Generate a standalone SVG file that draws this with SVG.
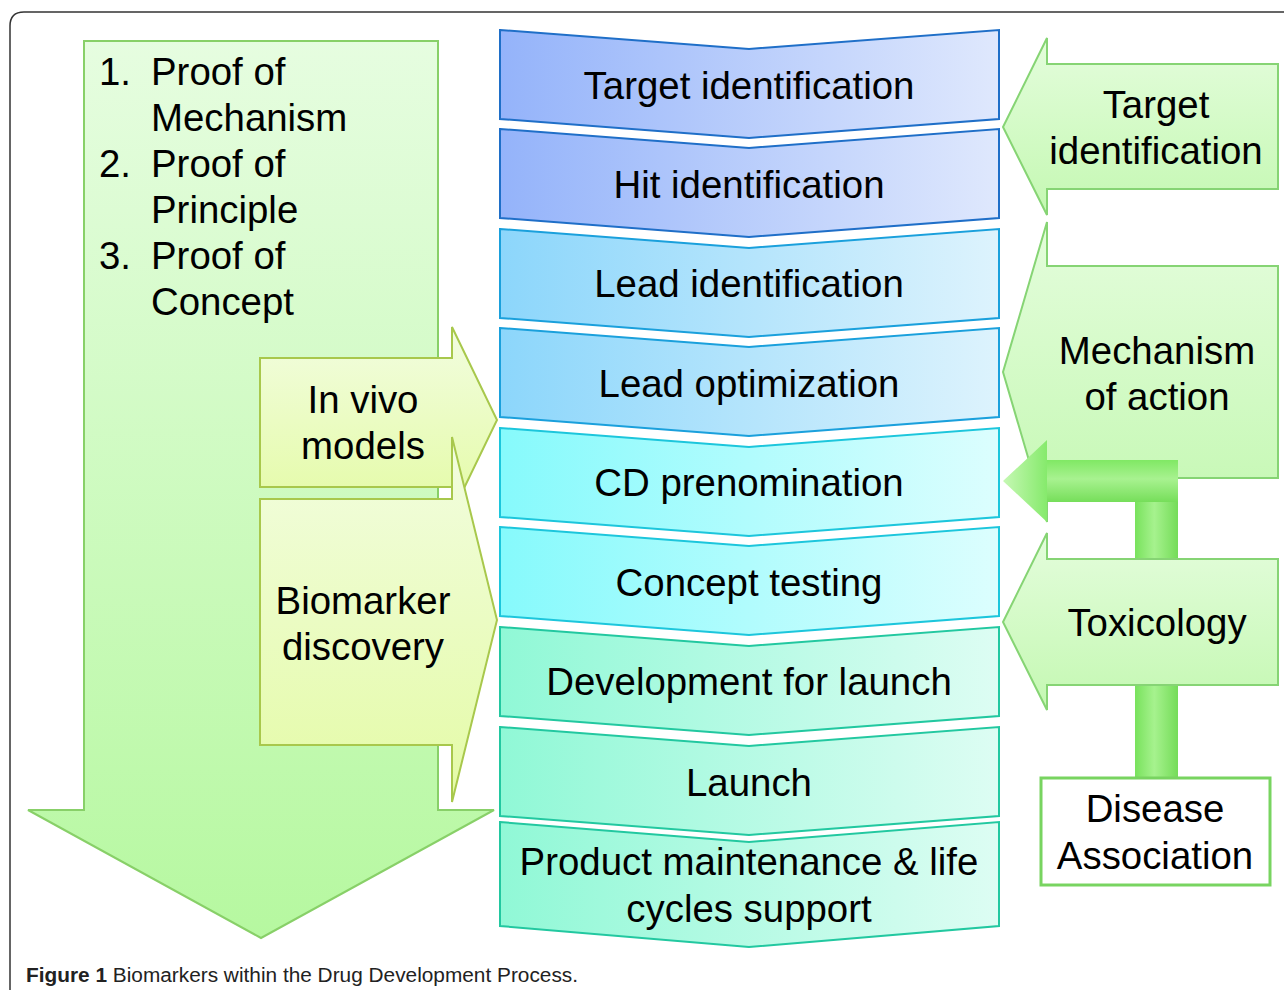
<svg xmlns="http://www.w3.org/2000/svg" width="1284" height="990" viewBox="0 0 1284 990">
<defs>
<linearGradient id="gBig" x1="0" y1="0" x2="0" y2="1"><stop offset="0" stop-color="#e6fde0"/><stop offset="1" stop-color="#b6f8a0"/></linearGradient>
<linearGradient id="gYel" x1="0" y1="0" x2="0" y2="1"><stop offset="0" stop-color="#f2fde0"/><stop offset="1" stop-color="#e4fba6"/></linearGradient>
<linearGradient id="gRight" x1="0" y1="0" x2="0" y2="1"><stop offset="0" stop-color="#e4fddc"/><stop offset="1" stop-color="#c4f8b2"/></linearGradient>
<linearGradient id="gBlue" x1="0" y1="0" x2="1" y2="0"><stop offset="0" stop-color="#94b3fa"/><stop offset="1" stop-color="#dfe8fd"/></linearGradient>
<linearGradient id="gSky" x1="0" y1="0" x2="1" y2="0"><stop offset="0" stop-color="#8cd6fb"/><stop offset="1" stop-color="#ddf3fd"/></linearGradient>
<linearGradient id="gCyan" x1="0" y1="0" x2="1" y2="0"><stop offset="0" stop-color="#86fafc"/><stop offset="1" stop-color="#dcfefe"/></linearGradient>
<linearGradient id="gMint" x1="0" y1="0" x2="1" y2="0"><stop offset="0" stop-color="#90f8d6"/><stop offset="1" stop-color="#ddfdf3"/></linearGradient>
<linearGradient id="gShaftV" x1="0" y1="0" x2="1" y2="0"><stop offset="0" stop-color="#78e25c"/><stop offset="0.45" stop-color="#a6f28e"/><stop offset="1" stop-color="#74dc58"/></linearGradient>
<linearGradient id="gShaftH" x1="0" y1="0" x2="0" y2="1"><stop offset="0" stop-color="#80e864"/><stop offset="0.45" stop-color="#a8f290"/><stop offset="1" stop-color="#76de5a"/></linearGradient>
<linearGradient id="gHead" x1="0" y1="0" x2="1" y2="0"><stop offset="0" stop-color="#c6f8b4"/><stop offset="1" stop-color="#86ea6c"/></linearGradient>
<style>
text{font-family:"Liberation Sans",Arial,sans-serif;fill:#000;}
.t{font-size:38.4px;text-anchor:middle;}
.l{font-size:38.4px;}
.big{fill:url(#gBig);stroke:#88d068;stroke-width:2;}
.yel{fill:url(#gYel);stroke:#a8c84c;stroke-width:2;}
.rgt{fill:url(#gRight);stroke:#86d474;stroke-width:2;}
.cb{stroke-width:2;}
</style>
</defs>

<path d="M10,990 V26 Q10,12 24,12 H1290" fill="none" stroke="#333" stroke-width="1.5"/>

<g id="proof-arrow">
<polygon class="big" points="84,41 438,41 438,810 494,810 261,938 28,810 84,810"/>
<text class="l" x="99" y="85">1.</text><text class="l" x="151" y="85">Proof of</text>
<text class="l" x="151" y="131">Mechanism</text>
<text class="l" x="99" y="177">2.</text><text class="l" x="151" y="177">Proof of</text>
<text class="l" x="151" y="223">Principle</text>
<text class="l" x="99" y="269">3.</text><text class="l" x="151" y="269">Proof of</text>
<text class="l" x="151" y="315">Concept</text>
</g>

<g id="in-vivo">
<polygon class="yel" points="260,358 452,358 452,327 497,420 452,513 452,487 260,487"/>
<text class="t" x="363" y="413">In vivo</text>
<text class="t" x="363" y="459">models</text>
</g>

<g id="biomarker">
<polygon class="yel" points="260,499 452,499 452,437 497,620 452,802 452,745 260,745"/>
<text class="t" x="363" y="614">Biomarker</text>
<text class="t" x="363" y="660">discovery</text>
</g>

<g id="stage-target">
<polygon class="cb" fill="url(#gBlue)" stroke="#1f6fc8" points="500,30 749,49 999,30 999,119 749,138 500,119"/>
<text class="t" x="749" y="99">Target identification</text>
</g>
<g id="stage-hit">
<polygon class="cb" fill="url(#gBlue)" stroke="#1f6fc8" points="500,129 749,148 999,129 999,218 749,237 500,218"/>
<text class="t" x="749" y="198">Hit identification</text>
</g>
<g id="stage-lead-id">
<polygon class="cb" fill="url(#gSky)" stroke="#1aa0dc" points="500,229 749,248 999,229 999,318 749,337 500,318"/>
<text class="t" x="749" y="297">Lead identification</text>
</g>
<g id="stage-lead-opt">
<polygon class="cb" fill="url(#gSky)" stroke="#1aa0dc" points="500,328 749,347 999,328 999,417 749,436 500,417"/>
<text class="t" x="749" y="397">Lead optimization</text>
</g>
<g id="stage-cd">
<polygon class="cb" fill="url(#gCyan)" stroke="#1cc6dc" points="500,428 749,447 999,428 999,517 749,536 500,517"/>
<text class="t" x="749" y="496">CD prenomination</text>
</g>
<g id="stage-concept">
<polygon class="cb" fill="url(#gCyan)" stroke="#1cc6dc" points="500,527 749,546 999,527 999,616 749,635 500,616"/>
<text class="t" x="749" y="596">Concept testing</text>
</g>
<g id="stage-dev">
<polygon class="cb" fill="url(#gMint)" stroke="#22c8a0" points="500,627 749,646 999,627 999,716 749,735 500,716"/>
<text class="t" x="749" y="695">Development for launch</text>
</g>
<g id="stage-launch">
<polygon class="cb" fill="url(#gMint)" stroke="#22c8a0" points="500,727 749,746 999,727 999,816 749,835 500,816"/>
<text class="t" x="749" y="796">Launch</text>
</g>
<g id="stage-product">
<polygon class="cb" fill="url(#gMint)" stroke="#22c8a0" points="500,822 749,842 999,822 999,926 749,947 500,926"/>
<text class="t" x="749" y="875">Product maintenance &amp; life</text>
<text class="t" x="749" y="922">cycles support</text>
</g>

<g id="right-target">
<polygon class="rgt" points="1047,38 1047,64 1278,64 1278,189 1047,189 1047,215 1003,127"/>
<text class="t" x="1156" y="118">Target</text>
<text class="t" x="1156" y="164">identification</text>
</g>

<g id="mechanism">
<polygon class="rgt" points="1047,222 1047,266 1278,266 1278,478 1047,478 1047,522 1003,372"/>
<text class="t" x="1157" y="364">Mechanism</text>
<text class="t" x="1157" y="410">of action</text>
</g>

<g id="connectors">
<rect x="1135" y="470" width="43" height="310" fill="url(#gShaftV)"/>
<rect x="1044" y="460" width="134" height="42" fill="url(#gShaftH)"/>
<polygon points="1047,440 1003,481 1047,522" fill="url(#gHead)"/>
</g>

<g id="toxicology">
<polygon class="rgt" points="1047,533 1047,559 1278,559 1278,685 1047,685 1047,710 1003,622"/>
<text class="t" x="1157" y="636">Toxicology</text>
</g>

<g id="disease">
<rect x="1041" y="778" width="229" height="107" fill="#fff" stroke="#78d460" stroke-width="3"/>
<text class="t" x="1155" y="822">Disease</text>
<text class="t" x="1155" y="869">Association</text>
</g>

<text x="26" y="982" style="font-size:19.5px;fill:#222" textLength="552" lengthAdjust="spacingAndGlyphs"><tspan font-weight="bold">Figure 1</tspan> Biomarkers within the Drug Development Process.</text>
</svg>
